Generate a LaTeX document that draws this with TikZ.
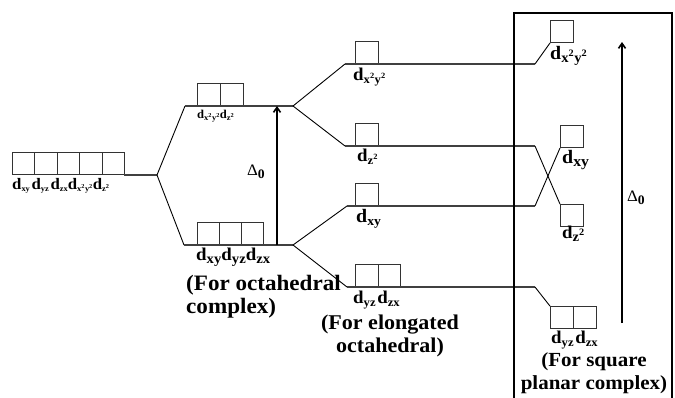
\documentclass[tikz,border=0pt]{standalone}
\usepackage{fontspec}
\setmainfont{Liberation Serif}[FakeStretch=1.05]
\usetikzlibrary{arrows.meta}
\newcommand{\orbd}[3]{{\fontsize{#1}{#1}\selectfont d\raisebox{-0.3ex}{\fontsize{#2}{#2}\selectfont #3}}}
\newcommand{\sq}{\textsuperscript{2}}
\tikzset{
  lvl/.style={line width=1.3pt, draw=black!75},
  br/.style={line width=0.9pt, draw=black},
  orbbox/.style={draw=black!80, line width=0.9pt, minimum width=23pt, minimum height=22pt, inner sep=0pt, anchor=south west},
  big/.style={font=\bfseries\fontsize{21}{23}\selectfont, inner sep=0pt},
  lab/.style={font=\bfseries, inner sep=0pt},
  delta/.style={font=\fontsize{16}{16}\selectfont, inner sep=0pt},
  arr/.style={line width=1.6pt, -{Straight Barb[length=5pt,width=7pt]}}
}
\begin{document}
\begin{tikzpicture}[x=1pt,y=-1pt]
\useasboundingbox (0,0) rectangle (675,397);
% left degenerate set
\foreach \i in {0,...,4} {\node[orbbox, minimum width=22.4pt] (a\i) at ({12+22.4*\i},175) {};}
\node[lab, anchor=north west] (alab) at (12,178) {\orbd{16}{8}{xy}\,\orbd{16}{8}{yz}\,\orbd{16}{8}{zx}\orbd{16}{8}{x\sq y\sq}\orbd{16}{8}{z\sq}};
\coordinate (L0) at (124,175);
\coordinate (lf) at (157,175);
% octahedral
\coordinate (egL) at (185,106);
\coordinate (egR) at (293,106);
\coordinate (tL) at (184,245);
\coordinate (tR) at (293,245);
\node[orbbox] (e1) at (197,106) {};
\node[orbbox] (e2) at (220,106) {};
\node[lab, anchor=north west] (elab) at (197,110) {\orbd{12}{8}{x\sq y\sq}\orbd{12}{8}{z\sq}};
\node[orbbox, minimum width=22pt] (t1) at (197,245) {};
\node[orbbox, minimum width=22pt] (t2) at (219,245) {};
\node[orbbox, minimum width=22pt] (t3) at (241,245) {};
\node[lab, anchor=north west] (tlab) at (196,248) {\orbd{18}{14}{xy}\orbd{18}{14}{yz}\orbd{18}{14}{zx}};
\node[big, font=\bfseries\fontsize{22}{23}\selectfont, anchor=north west, align=left] (octtxt) at (186,275) {(For octahedral\\complex)};
% middle
\coordinate (m1L) at (345,64);  \coordinate (m1R) at (535,64);
\coordinate (m2L) at (345,146); \coordinate (m2R) at (535,146);
\coordinate (m3L) at (347,206); \coordinate (m3R) at (535,206);
\coordinate (m4L) at (347,287); \coordinate (m4R) at (535,287);
\node[orbbox] (mb1) at (355,64) {};
\node[orbbox] (mb2) at (355,146) {};
\node[orbbox] (mb3) at (355,206) {};
\node[orbbox, minimum width=22.5pt] (mb4a) at (355,287) {};
\node[orbbox, minimum width=22.5pt] (mb4b) at (377.5,287) {};
\node[lab, anchor=north west] (ml1) at (353,68) {\orbd{18}{12}{x\sq y\sq}};
\node[lab, anchor=north west] (ml2) at (357,149) {\orbd{18}{12}{z\sq}};
\node[lab, anchor=north west] (ml3) at (356,209) {\orbd{19}{13}{xy}};
\node[lab, anchor=north west] (ml4) at (353,291) {\orbd{18}{12}{yz}\,\orbd{18}{12}{zx}};
\node[big, anchor=north, align=center] (elotxt) at (390,315) {(For elongated\\octahedral)};
% square planar
\node[orbbox] (s1) at (550,43) {};
\node[orbbox] (s2) at (560,148) {};
\node[orbbox] (s3) at (560,227) {};
\node[orbbox] (s4a) at (550,329) {};
\node[orbbox] (s4b) at (573,329) {};
\node[lab, anchor=north west] (sl1) at (550,46) {\orbd{19}{14}{x\sq y\sq}};
\node[lab, anchor=north west] (sl2) at (562,150) {\orbd{19}{15}{xy}};
\node[lab, anchor=north west] (sl3) at (562,226) {\orbd{18}{14}{z\sq}};
\node[lab, anchor=north west] (sl4) at (551,331) {\orbd{18}{12}{yz}\,\orbd{18}{12}{zx}};
\node[big, font=\bfseries\fontsize{20}{23}\selectfont, anchor=north, align=center] (sqtxt) at (594,352) {(For square\\planar complex)};
% levels
\draw[lvl] (L0) -- (lf);
\draw[br] (lf) -- (egL);
\draw[br] (lf) -- (tL);
\draw[lvl] (egL) -- (egR);
\draw[lvl] (tL) -- (tR);
\draw[br] (egR) -- (m1L);
\draw[br] (egR) -- (m2L);
\draw[br] (tR) -- (m3L);
\draw[br] (tR) -- (m4L);
\draw[lvl] (m1L) -- (m1R);
\draw[lvl] (m2L) -- (m2R);
\draw[lvl] (m3L) -- (m3R);
\draw[lvl] (m4L) -- (m4R);
\draw[br] (m1R) -- (s1.south west);
\draw[br] (m2R) -- (s3.north west);
\draw[br] (m3R) -- (s2.south west);
\draw[br] (m4R) -- (s4a.north west);
% splitting arrows
\coordinate (d1b) at (277,245); \coordinate (d1t) at (277,106);
\draw[arr] (d1b) -- (d1t);
\node[delta] (del1) at (256,172) {Δ\raisebox{-0.4ex}{\bfseries\fontsize{13}{13}\selectfont 0}};
\coordinate (d2b) at (622,323); \coordinate (d2t) at (622,42);
\draw[arr] (d2b) -- (d2t);
\node[delta] (del2) at (636,198) {Δ\raisebox{-0.4ex}{\bfseries\fontsize{13}{13}\selectfont 0}};
% frame
\coordinate (fr1) at (514,399); \coordinate (fr2) at (514,13);
\coordinate (fr3) at (672,13); \coordinate (fr4) at (672,399);
\draw[line width=2pt, line join=miter] (fr1) -- (fr2) -- (fr3) -- (fr4);
\end{tikzpicture}
\end{document}
